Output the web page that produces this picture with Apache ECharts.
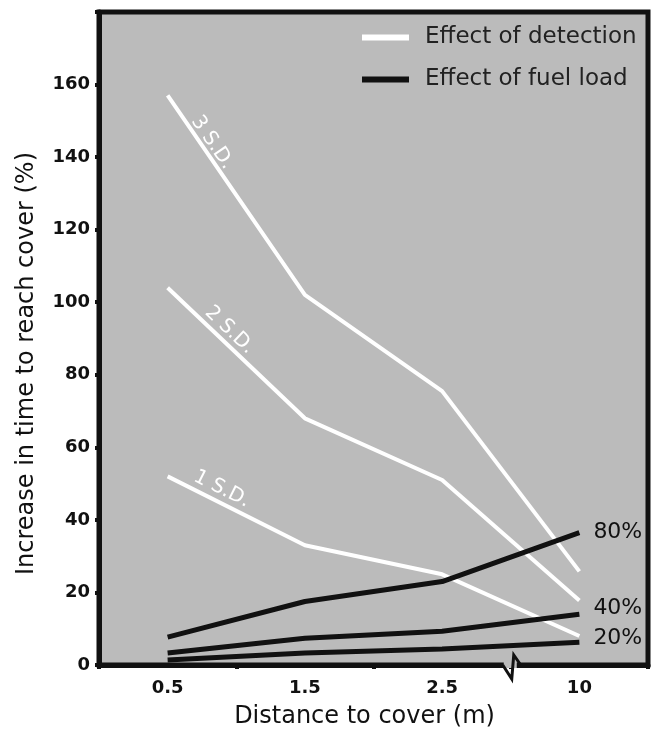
<!DOCTYPE html>
<html>
<head>
<meta charset="utf-8">
<script src="https://cdn.jsdelivr.net/npm/echarts@6/dist/echarts.min.js"></script>
<style>
  html, body { margin: 0; padding: 0; background: #fff; }
  #J_chart { width: 653px; height: 730px; }
</style>
</head>
<body>
<div id="J_chart"></div>
<script>
'use strict';

var distances = ['0.5', '1.5', '2.5', '10'];
var yTicks = [0, 20, 40, 60, 80, 100, 120, 140, 160];

var sd3 = [157, 102, 75.5, 25.8];
var sd2 = [104, 68, 51, 17.8];
var sd1 = [52, 33, 25, 8];
var sdNames = ['3 S.D.', '2 S.D.', '1 S.D.'];

var fuel80 = [7.7, 17.5, 23, 36.5];
var fuel40 = [3.3, 7.4, 9.3, 14];
var fuel20 = [1.4, 3.3, 4.4, 6.3];
var fuelNames = ['80%', '40%', '20%'];

var fontName = 'DejaVu Sans';

var detectionChart = {
  whiteLine: function(name, data){
    return {
      name: name,
      type: 'line',
      data: data,
      symbol: 'none',
      silent: true,
      lineStyle: { color: '#ffffff', width: 4 },
      z: 3
    };
  },
  blackLine: function(name, data, label, dy){
    return {
      name: name,
      type: 'line',
      data: data,
      symbol: 'none',
      silent: true,
      lineStyle: { color: '#111111', width: 5 },
      endLabel: {
        show: true,
        formatter: label,
        distance: 14,
        offset: [0, dy],
        color: '#111',
        fontFamily: fontName,
        fontSize: 22
      },
      z: 4
    };
  },
  draw: function(){
    var me = this;
    var chart = echarts.init(document.getElementById('J_chart'));
    var detName = 'Effect of detection';
    var fuelName = 'Effect of fuel load';
    var option = {
      animation: false,
      grid: {
        left: 99, right: 5, top: 12, bottom: 65,
        show: true,
        backgroundColor: '#bbbbbb',
        borderColor: '#111111',
        borderWidth: 5,
        containLabel: false,
        outerBoundsMode: 'none'
      },
      legend: {
        orient: 'vertical',
        left: 362,
        top: 26,
        padding: 0,
        itemWidth: 47,
        itemHeight: 6,
        itemGap: 19,
        selectedMode: false,
        textStyle: { color: '#222', fontFamily: fontName, fontSize: 23, padding: [0, 0, 0, 11] },
        data: [
          { name: detName, icon: 'rect', itemStyle: { color: '#ffffff' } },
          { name: fuelName, icon: 'rect', itemStyle: { color: '#111111' } }
        ]
      },
      xAxis: {
        type: 'category',
        data: distances,
        boundaryGap: true,
        name: 'Distance to cover (m)',
        nameLocation: 'middle',
        nameGap: 40,
        nameTextStyle: { color: '#111', fontFamily: fontName, fontSize: 24, padding: [0, 18, 0, 0] },
        axisLine: { lineStyle: { color: '#111', width: 5 } },
        axisTick: { show: true, length: 4, lineStyle: { color: '#111', width: 4 } },
        axisLabel: { color: '#111', fontFamily: fontName, fontWeight: 'bold', fontSize: 18, margin: 14 },
        splitLine: { show: false }
      },
      yAxis: {
        type: 'value',
        min: 0,
        max: 180,
        interval: 20,
        name: 'Increase in time to reach cover (%)',
        nameLocation: 'middle',
        nameGap: 60,
        nameTextStyle: { color: '#111', fontFamily: fontName, fontSize: 24, padding: [0, 50, 0, 0] },
        axisLine: { show: true, lineStyle: { color: '#111', width: 5 } },
        axisTick: { show: true, length: 4, lineStyle: { color: '#111', width: 4 } },
        axisLabel: {
          color: '#111', fontFamily: fontName, fontWeight: 'bold', fontSize: 18, margin: 9,
          formatter: function(v){ return yTicks.indexOf(v) >= 0 ? String(v) : ''; }
        },
        splitLine: { show: false }
      },
      series: [
        me.whiteLine(detName, sd3),
        me.whiteLine(detName, sd2),
        me.whiteLine(detName, sd1),
        me.blackLine(fuelName, fuel80, fuelNames[0], 0),
        me.blackLine(fuelName, fuel40, fuelNames[1], -6),
        me.blackLine(fuelName, fuel20, fuelNames[2], -4)
      ]
    };
    chart.setOption(option);

    // S.D. labels along the first segment of each detection line, plus the axis break
    var sdData = [sd3, sd2, sd1];
    var alongs = [64, 74, 54];
    var offs = [10, 12, 13];
    var graphics = [];
    sdData.forEach(function(d, i){
      var p0 = chart.convertToPixel({ seriesIndex: i }, [0, d[0]]);
      var p1 = chart.convertToPixel({ seriesIndex: i }, [1, d[1]]);
      var dx = p1[0] - p0[0], dy = p1[1] - p0[1];
      var len = Math.sqrt(dx * dx + dy * dy);
      var ux = dx / len, uy = dy / len;
      var cx = p0[0] + ux * alongs[i] + uy * offs[i];
      var cy = p0[1] + uy * alongs[i] - ux * offs[i];
      graphics.push({
        type: 'text',
        x: cx, y: cy,
        rotation: -Math.atan2(dy, dx),
        style: {
          text: sdNames[i], fill: '#ffffff', font: '20px "DejaVu Sans"',
          align: 'center', verticalAlign: 'middle'
        },
        z: 10
      });
    });
    var xa = chart.convertToPixel({ xAxisIndex: 0 }, 2);
    var xb = chart.convertToPixel({ xAxisIndex: 0 }, 3);
    var bx = (xa + xb) / 2;
    var by = chart.convertToPixel({ yAxisIndex: 0 }, 0);
    graphics.push({
      type: 'rect',
      shape: { x: bx - 7, y: by - 3, width: 13, height: 6 },
      style: { fill: '#bbbbbb' },
      z: 20
    });
    graphics.push({
      type: 'polyline',
      shape: { points: [[bx - 8, by], [bx + 1, by + 14], [bx + 3, by - 10], [bx + 10, by]] },
      style: { stroke: '#111', lineWidth: 3, fill: null },
      z: 21
    });
    chart.setOption({ graphic: graphics });
  },
  init: function(){
    var me = this;
    me.draw();
    return me;
  }
};

detectionChart.init();
</script>
</body>
</html>
